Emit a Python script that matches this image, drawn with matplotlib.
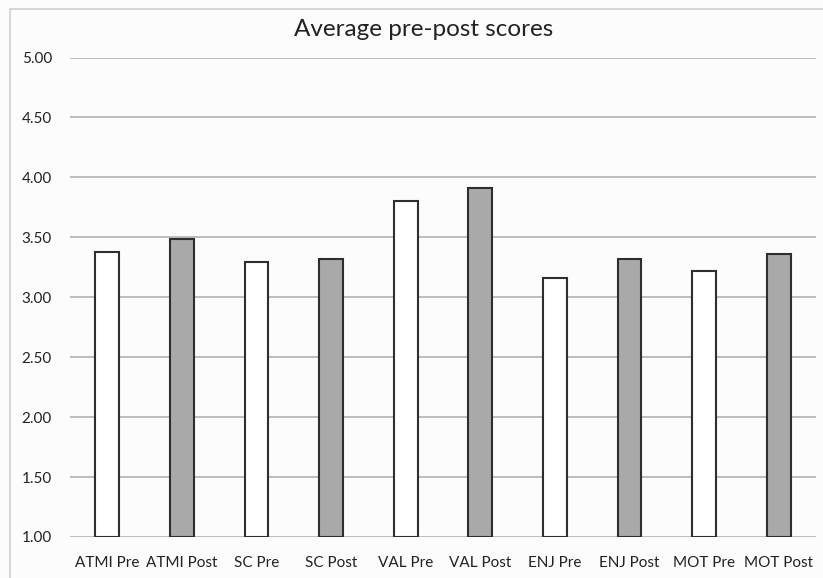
import matplotlib
matplotlib.use("Agg")
import matplotlib.pyplot as plt
from matplotlib.patches import Rectangle

categories = ["ATMI Pre", "ATMI Post", "SC Pre", "SC Post", "VAL Pre",
              "VAL Post", "ENJ Pre", "ENJ Post", "MOT Pre", "MOT Post"]
values = [3.38, 3.49, 3.29, 3.32, 3.80, 3.91, 3.16, 3.32, 3.22, 3.36]
yticks = [1.00, 1.50, 2.00, 2.50, 3.00, 3.50, 4.00, 4.50, 5.00]

plt.rcParams['font.family'] = ['Lato', 'DejaVu Sans']

W, H = 823, 578
fig = plt.figure(figsize=(W / 100, H / 100), dpi=100)
fig.patch.set_facecolor('#fcfcfc')

# outer chart border
fig.patches.append(Rectangle((10 / W, -0.02), 1.05, 1 - 9 / H + 0.02,
                             transform=fig.transFigure, fill=False,
                             edgecolor='#cfcfcf', linewidth=1.2))

ax = fig.add_axes([70 / W, 1 - 537 / H, (816 - 70) / W, (537 - 57.5) / H])
ax.set_facecolor('#fcfcfc')

colors = ['white' if i % 2 == 0 else '#a9a9a9' for i in range(len(values))]
x = list(range(len(categories)))
ax.bar(x, [v - 1.0 for v in values], bottom=1.0, width=0.32, color=colors,
       edgecolor='#2e2e2e', linewidth=1.5, zorder=3)

ax.set_xlim(-0.5, len(categories) - 0.5)
ax.set_ylim(1.0, 5.0)
ax.set_yticks(yticks)
ax.set_yticklabels([f"{t:.2f}" for t in yticks])
ax.set_xticks(x)
ax.set_xticklabels(categories)
ax.yaxis.grid(True, color='#bdbdbd', linewidth=1.4, zorder=0)
for s in ax.spines.values():
    s.set_visible(False)
ax.tick_params(axis='y', length=0, pad=13, labelsize=11, labelcolor='#222222')
ax.tick_params(axis='x', length=0, pad=14, labelsize=11, labelcolor='#222222')

fig.text(424 / W, 1 - 30 / H, "Average pre-post scores", ha='center',
         va='center', fontsize=17.5, color='#222222')

fig.savefig("out.png", dpi=100, facecolor=fig.get_facecolor())
